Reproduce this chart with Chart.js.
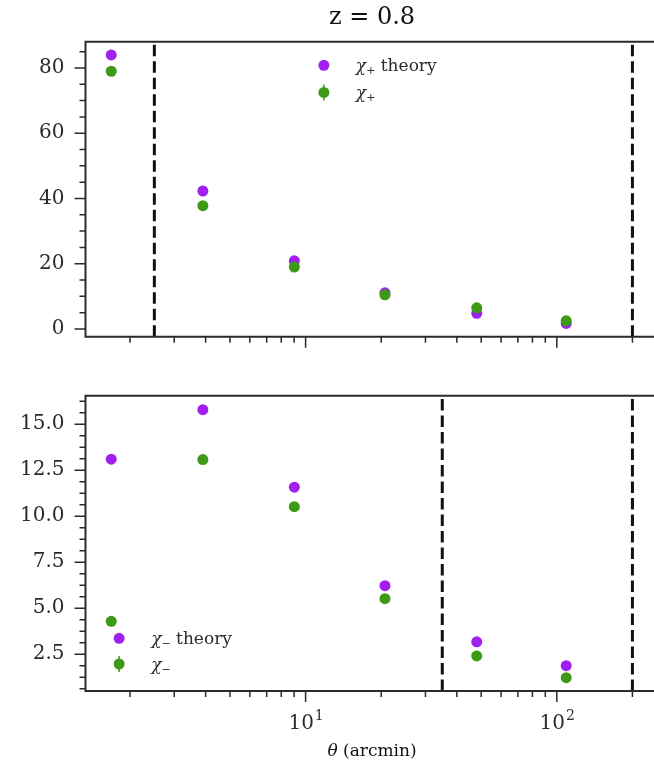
<!DOCTYPE html>
<html lang="en">
<head>
<meta charset="UTF-8" />
<title>z = 0.8</title>
<script src="https://cdn.jsdelivr.net/npm/chart.js"></script>
<style>
  html, body { margin: 0; padding: 0; background: #fff; overflow: hidden; width: 654px; height: 765px; }
  canvas { position: absolute; left: 0; }
  #chiPlus { top: 0; }
  #chiMinus { top: 360px; }
</style>
</head>
<body>
<canvas id="chiPlus" width="664" height="360"></canvas>
<canvas id="chiMinus" width="664" height="405"></canvas>
<script>
// angular bins (arcmin)
const theta = [1.684, 3.90, 9.02, 20.7, 48.0, 109];

const chiPlusTheory = [84.0, 42.3, 20.9, 11.1, 4.8, 1.7];
const chiPlusData   = [79.0, 37.8, 19.0, 10.5, 6.5, 2.5];
const chiMinusTheory = [13.1, 15.79, 11.58, 6.23, 3.18, 1.88];
const chiMinusData   = [4.29, 13.08, 10.52, 5.52, 2.41, 1.23];

// scale cuts (dashed lines)
const cutsPlus = [2.5, 200];
const cutsMinus = [35, 200];

// ticks
const xMajor = [10, 100];
const xMinor = [2, 3, 4, 5, 6, 7, 8, 9, 20, 30, 40, 50, 60, 70, 80, 90, 200];
const xTickExp = { 10: "1", 100: "2" };
const yPlusMajor = [0, 20, 40, 60, 80];
const yPlusMinor = [5, 10, 15, 25, 30, 35, 45, 50, 55, 65, 70, 75, 85];
const yMinusMajor = [2.5, 5.0, 7.5, 10.0, 12.5, 15.0];
const yMinusMinor = [0.625, 1.25, 1.875, 3.125, 3.75, 4.375, 5.625, 6.25, 6.875,
  8.125, 8.75, 9.375, 10.625, 11.25, 11.875, 13.125, 13.75, 14.375, 15.625, 16.25];

const xMin = 1.33, xMax = 254;

const PURPLE = "#a020f0";
const GREEN = "#3c9a16";
const INK = "#2b2b2b";
const SERIF = "'DejaVu Serif', serif";

// frame, ticks, cut lines, legend and text
const framePlugin = {
  id: "frame",
  beforeDatasetsDraw(chart, args, o) {
    const { ctx, chartArea: a, scales: { x } } = chart;
    ctx.save();
    ctx.strokeStyle = "#111";
    ctx.lineWidth = 3;
    ctx.setLineDash([11.5, 5]);
    o.cuts.forEach(c => {
      const px = x.getPixelForValue(c);
      ctx.beginPath();
      ctx.moveTo(px, a.bottom);
      ctx.lineTo(px, a.top);
      ctx.stroke();
    });
    ctx.restore();
  },
  afterDraw(chart, args, o) {
    const { ctx, chartArea: a, scales: { x, y } } = chart;
    ctx.save();
    ctx.strokeStyle = INK;
    ctx.lineWidth = 1.5;
    ctx.beginPath();
    xMajor.forEach(v => { const p = x.getPixelForValue(v); ctx.moveTo(p, a.bottom); ctx.lineTo(p, a.bottom + 11); });
    xMinor.forEach(v => { const p = x.getPixelForValue(v); ctx.moveTo(p, a.bottom); ctx.lineTo(p, a.bottom + 6); });
    o.yMajor.forEach(v => { const p = y.getPixelForValue(v); ctx.moveTo(a.left, p); ctx.lineTo(a.left - 11, p); });
    o.yMinor.forEach(v => { const p = y.getPixelForValue(v); ctx.moveTo(a.left, p); ctx.lineTo(a.left - 6, p); });
    ctx.stroke();

    ctx.lineWidth = 2;
    ctx.beginPath();
    ctx.moveTo(a.left, a.top);
    ctx.lineTo(a.left, a.bottom);
    ctx.lineTo(a.right, a.bottom);
    ctx.lineTo(a.right, a.top);
    ctx.closePath();
    ctx.stroke();

    // legend
    const lx = a.left + o.legendAt[0] * (a.right - a.left);
    const rows = [a.top + o.legendAt[1] * (a.bottom - a.top), a.top + o.legendAt[2] * (a.bottom - a.top)];
    [[PURPLE, " theory", false], [GREEN, "", true]].forEach(([col, tail, bar], i) => {
      const ry = rows[i];
      if (bar) {
        ctx.strokeStyle = col;
        ctx.lineWidth = 1.5;
        ctx.beginPath();
        ctx.moveTo(lx, ry - 8);
        ctx.lineTo(lx, ry + 8);
        ctx.stroke();
      }
      ctx.fillStyle = col;
      ctx.beginPath();
      ctx.arc(lx, ry, 5.5, 0, Math.PI * 2);
      ctx.fill();
      let tx = lx + 32;
      const base = ry + 6;
      ctx.fillStyle = INK;
      ctx.textBaseline = "alphabetic";
      ctx.textAlign = "left";
      ctx.font = "italic 17px " + SERIF;
      ctx.fillText("\u03c7", tx, base);
      tx += ctx.measureText("\u03c7").width;
      ctx.font = "11px " + SERIF;
      ctx.fillText(o.sign, tx, base + 3);
      tx += ctx.measureText(o.sign).width;
      ctx.font = "17px " + SERIF;
      ctx.fillText(tail, tx, base);
    });

    const cx = (a.left + a.right) / 2;
    if (o.title) {
      ctx.font = "24px " + SERIF;
      ctx.textAlign = "center";
      ctx.textBaseline = "middle";
      ctx.fillStyle = "#111";
      ctx.fillText(o.title, cx, a.top - 23.5);
    }
    if (o.xlabel) {
      // decade labels 10^n
      ctx.fillStyle = INK;
      ctx.textBaseline = "alphabetic";
      xMajor.forEach(v => {
        const p = x.getPixelForValue(v);
        const e = xTickExp[v];
        ctx.font = "20px " + SERIF;
        const wb = ctx.measureText("10").width;
        ctx.font = "14px " + SERIF;
        const we = ctx.measureText(e).width;
        const sx = p - (wb + we) / 2;
        ctx.textAlign = "left";
        ctx.font = "20px " + SERIF;
        ctx.fillText("10", sx, a.bottom + 38);
        ctx.font = "14px " + SERIF;
        ctx.fillText(e, sx + wb + 1, a.bottom + 29);
      });

      ctx.textBaseline = "middle";
      ctx.textAlign = "left";
      ctx.fillStyle = "#111";
      ctx.font = "italic 17px " + SERIF;
      const w1 = ctx.measureText("\u03b8").width;
      ctx.font = "17px " + SERIF;
      const w2 = ctx.measureText(" (arcmin)").width;
      const sx = cx - (w1 + w2) / 2;
      const ty = chart.height - 13;
      ctx.font = "italic 17px " + SERIF;
      ctx.fillText("\u03b8", sx, ty);
      ctx.font = "17px " + SERIF;
      ctx.fillText(" (arcmin)", sx + w1, ty);
    }
    ctx.restore();
  }
};

function pts(ys) {
  return theta.map((t, i) => ({ x: t, y: ys[i] }));
}

function makeChart(id, cfg) {
  return new Chart(document.getElementById(id), {
    type: "scatter",
    data: {
      datasets: [
        { label: "data", data: pts(cfg.data), backgroundColor: GREEN, pointRadius: 5.5, pointHoverRadius: 5.5, borderWidth: 0, order: 0 },
        { label: "theory", data: pts(cfg.theory), backgroundColor: PURPLE, pointRadius: 5.5, pointHoverRadius: 5.5, borderWidth: 0, order: 1 },
      ],
    },
    options: {
      responsive: false,
      animation: false,
      events: [],
      layout: { padding: { top: cfg.padTop, right: 3, left: 0, bottom: 0 } },
      scales: {
        x: {
          type: "logarithmic",
          min: xMin,
          max: xMax,
          grid: { display: false, drawTicks: false },
          border: { display: false },
          ticks: { display: false },
          afterFit: s => {
            s.height = cfg.xHeight;
            s.paddingLeft = s.paddingRight = s.paddingTop = s.paddingBottom = 0;
          },
        },
        y: {
          min: cfg.yMin,
          max: cfg.yMax,
          grid: { display: false, drawTicks: false },
          border: { display: false },
          afterBuildTicks: s => { s.ticks = cfg.yMajor.map(v => ({ value: v })); },
          afterFit: s => {
            s.width = 85.5;
            s.paddingLeft = s.paddingRight = s.paddingTop = s.paddingBottom = 0;
          },
          ticks: {
            padding: 21,
            color: INK,
            font: { family: SERIF, size: 20 },
            callback: cfg.yFormat,
          },
        },
      },
      plugins: {
        legend: { display: false },
        tooltip: { enabled: false },
        frame: {
          cuts: cfg.cuts,
          yMajor: cfg.yMajor,
          yMinor: cfg.yMinor,
          sign: cfg.sign,
          legendAt: cfg.legendAt,
          title: cfg.title,
          xlabel: cfg.xlabel,
        },
      },
    },
    plugins: [framePlugin],
  });
}

makeChart("chiPlus", {
  data: chiPlusData, theory: chiPlusTheory,
  padTop: 41.7, xHeight: 23.3,
  yMin: -2.36, yMax: 88.06,
  yMajor: yPlusMajor, yMinor: yPlusMinor,
  yFormat: v => String(v),
  cuts: cutsPlus, sign: "+",
  legendAt: [0.416, 0.08, 0.172],
  title: "z = 0.8", xlabel: false,
});

makeChart("chiMinus", {
  data: chiMinusData, theory: chiMinusTheory,
  padTop: 35.7, xHeight: 74,
  yMin: 0.505, yMax: 16.55,
  yMajor: yMinusMajor, yMinor: yMinusMinor,
  yFormat: v => Number(v).toFixed(1),
  cuts: cutsMinus, sign: "\u2212",
  legendAt: [0.0587, 0.8215, 0.9086],
  title: null, xlabel: true,
});
</script>
</body>
</html>
